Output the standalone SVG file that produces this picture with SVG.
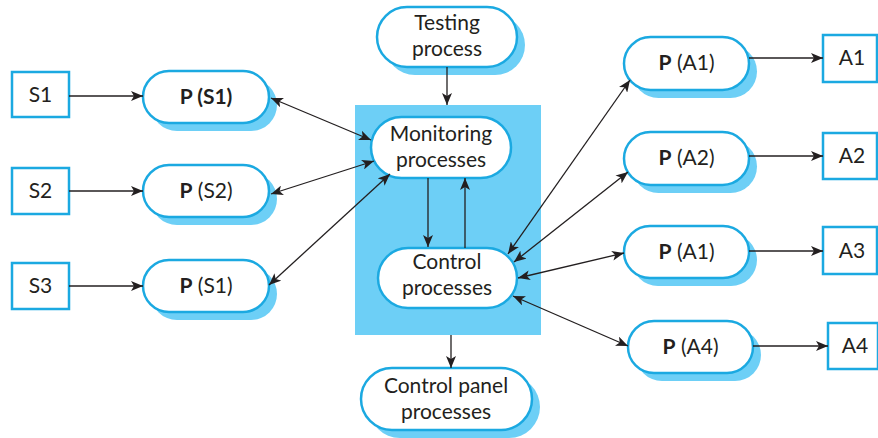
<svg xmlns="http://www.w3.org/2000/svg" width="878" height="438" viewBox="0 0 878 438">
<style>
.box{fill:#fff;stroke:#1ba9e1;stroke-width:2.5}
.pill{fill:#fff;stroke:#1ba9e1;stroke-width:2.5}
.sh{fill:#6dcff6}
.t{font-family:Lato,"Open Sans","Liberation Sans",sans-serif;font-size:21px;fill:#231f20;text-anchor:middle}
.b{font-weight:bold}
.c{stroke:#231f20;stroke-width:1.3;fill:none}
</style>
<defs>
<marker id="ah" viewBox="0 0 12 10" refX="12" refY="5" markerWidth="12" markerHeight="10" markerUnits="userSpaceOnUse" orient="auto-start-reverse">
<path d="M0,0 L12,5 L0,10 L3,5 Z" fill="#231f20"/>
</marker>
</defs>
<rect x="355" y="105" width="186" height="230" fill="#6dcff6"/>
<g id="S1"><rect class="box" x="12" y="72" width="57" height="45"/><text class="t" x="40.5" y="102">S1</text></g>
<g id="S2"><rect class="box" x="12" y="168" width="57" height="46"/><text class="t" x="40.5" y="198">S2</text></g>
<g id="S3"><rect class="box" x="12" y="263" width="57" height="46"/><text class="t" x="40.5" y="293">S3</text></g>
<g id="PS1"><rect class="sh" x="151" y="79" width="126" height="52" rx="26"/><rect class="pill" x="143" y="71" width="126" height="52" rx="26"/><text class="t b" x="206" y="104">P (S1)</text></g>
<g id="PS2"><rect class="sh" x="151" y="173" width="126" height="52" rx="26"/><rect class="pill" x="143" y="165" width="126" height="52" rx="26"/><text class="t" x="206" y="198"><tspan class="b">P</tspan> (S2)</text></g>
<g id="PS3"><rect class="sh" x="151" y="268" width="126" height="52" rx="26"/><rect class="pill" x="143" y="260" width="126" height="52" rx="26"/><text class="t" x="206" y="293"><tspan class="b">P</tspan> (S1)</text></g>
<g id="testing"><rect class="sh" x="385" y="15" width="140" height="60" rx="30"/><rect class="pill" x="377" y="7" width="140" height="60" rx="30"/><text class="t" x="447" y="30">Testing</text><text class="t" x="447" y="56">process</text></g>
<g id="monitoring"><rect class="pill" x="371" y="117" width="140" height="61" rx="30.5"/><text class="t" x="441" y="141">Monitoring</text><text class="t" x="441" y="167">processes</text></g>
<g id="control"><rect class="pill" x="378" y="248" width="139" height="60" rx="30"/><text class="t" x="447" y="269">Control</text><text class="t" x="447" y="295">processes</text></g>
<g id="panel"><rect class="sh" x="369" y="376" width="171" height="62" rx="31"/><rect class="pill" x="361" y="368" width="171" height="62" rx="31"/><text class="t" x="446" y="393">Control panel</text><text class="t" x="446" y="419">processes</text></g>
<g id="PA1"><rect class="sh" x="632" y="45" width="125" height="53" rx="26.5"/><rect class="pill" x="624" y="37" width="125" height="53" rx="26.5"/><text class="t" x="686.5" y="70"><tspan class="b">P</tspan> (A1)</text></g>
<g id="PA2"><rect class="sh" x="632" y="140" width="125" height="53" rx="26.5"/><rect class="pill" x="624" y="132" width="125" height="53" rx="26.5"/><text class="t" x="686.5" y="165"><tspan class="b">P</tspan> (A2)</text></g>
<g id="PA3"><rect class="sh" x="632" y="234" width="125" height="52" rx="26"/><rect class="pill" x="624" y="226" width="125" height="52" rx="26"/><text class="t" x="686.5" y="259"><tspan class="b">P</tspan> (A1)</text></g>
<g id="PA4"><rect class="sh" x="636" y="329" width="125" height="52" rx="26"/><rect class="pill" x="628" y="321" width="125" height="52" rx="26"/><text class="t" x="690.5" y="354"><tspan class="b">P</tspan> (A4)</text></g>
<g id="A1"><rect class="box" x="823" y="35" width="54" height="47"/><text class="t" x="852" y="65">A1</text></g>
<g id="A2"><rect class="box" x="823" y="133" width="54" height="46"/><text class="t" x="852" y="163">A2</text></g>
<g id="A3"><rect class="box" x="823" y="227" width="54" height="47"/><text class="t" x="852" y="258">A3</text></g>
<g id="A4"><rect class="box" x="828" y="323" width="50" height="46"/><text class="t" x="855" y="353">A4</text></g>
<g id="connectors">
<line class="c" x1="69" y1="96" x2="143" y2="96" marker-end="url(#ah)"/>
<line class="c" x1="69" y1="191" x2="143" y2="191" marker-end="url(#ah)"/>
<line class="c" x1="69" y1="286" x2="143" y2="286" marker-end="url(#ah)"/>
<line class="c" x1="271" y1="98" x2="371" y2="140" marker-start="url(#ah)" marker-end="url(#ah)"/>
<line class="c" x1="271" y1="194" x2="374" y2="161" marker-start="url(#ah)" marker-end="url(#ah)"/>
<line class="c" x1="269" y1="285" x2="390" y2="174" marker-start="url(#ah)" marker-end="url(#ah)"/>
<line class="c" x1="447" y1="67" x2="447" y2="105" marker-end="url(#ah)"/>
<line class="c" x1="428" y1="178" x2="428" y2="247" marker-end="url(#ah)"/>
<line class="c" x1="465" y1="248" x2="465" y2="178" marker-end="url(#ah)"/>
<line class="c" x1="451" y1="335" x2="451" y2="368" marker-end="url(#ah)"/>
<line class="c" x1="508" y1="254" x2="630" y2="80" marker-start="url(#ah)" marker-end="url(#ah)"/>
<line class="c" x1="514" y1="262" x2="628" y2="172" marker-start="url(#ah)" marker-end="url(#ah)"/>
<line class="c" x1="518" y1="278" x2="624" y2="253" marker-start="url(#ah)" marker-end="url(#ah)"/>
<line class="c" x1="513" y1="296" x2="628" y2="346" marker-start="url(#ah)" marker-end="url(#ah)"/>
<line class="c" x1="749" y1="58" x2="823" y2="58" marker-end="url(#ah)"/>
<line class="c" x1="749" y1="156" x2="823" y2="156" marker-end="url(#ah)"/>
<line class="c" x1="749" y1="251" x2="823" y2="251" marker-end="url(#ah)"/>
<line class="c" x1="753" y1="346" x2="828" y2="346" marker-end="url(#ah)"/>
</g>
</svg>
